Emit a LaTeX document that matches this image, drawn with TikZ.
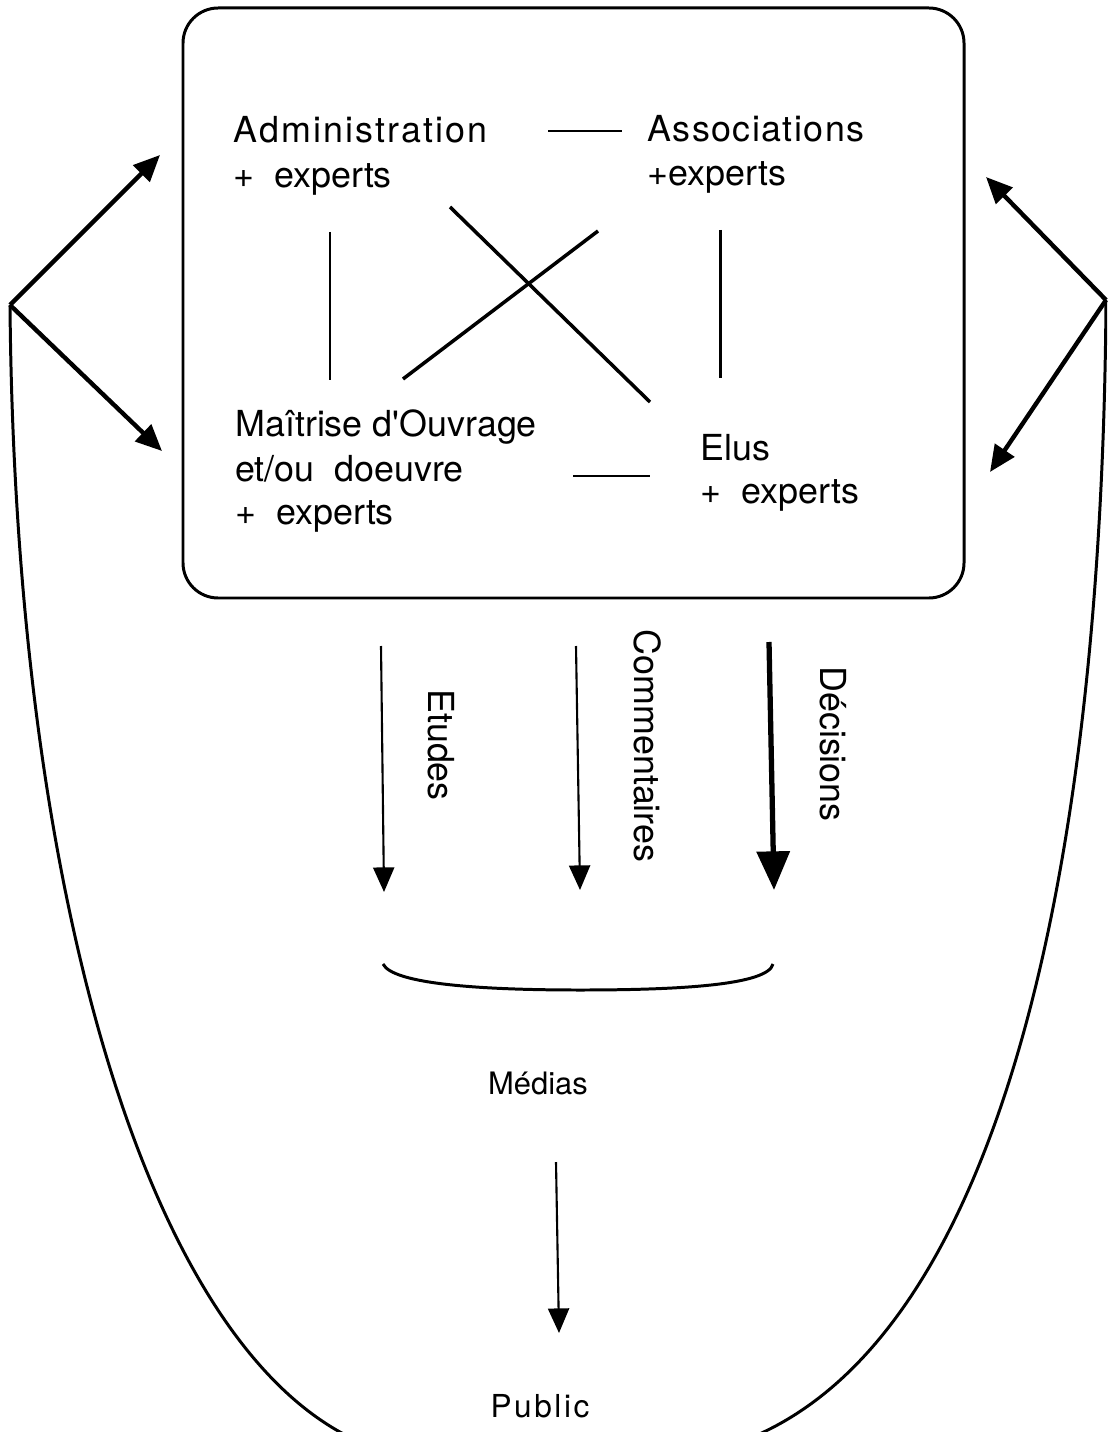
\documentclass[tikz,border=0pt]{standalone}
\usepackage{fontspec}
\setmainfont{TeX Gyre Heros}
\newfontfamily\hvA[LetterSpace=6]{TeX Gyre Heros}
\newfontfamily\hvB[LetterSpace=4]{TeX Gyre Heros}
\newfontfamily\hvC[LetterSpace=8]{TeX Gyre Heros}
\newcommand{\straightquote}{\XeTeXglyph\XeTeXglyphindex "quotesingle"\relax}
\usetikzlibrary{arrows.meta}
\begin{document}
\begin{tikzpicture}[x=0.02cm,y=-0.02cm,
  lbl/.style={anchor=base west, inner sep=0pt, font=\fontsize{20.4}{24}\selectfont},
  clbl/.style={anchor=base, inner sep=0pt},
  vlbl/.style={rotate=-90, inner sep=0pt, font=\fontsize{20.4}{24}\selectfont},
  link/.style={line width=1.7pt},
  xlink/.style={line width=2pt},
  bigarrow/.style={line width=2.5pt, -{Triangle[length=15pt,width=13pt]}},
  flow/.style={line width=1.2pt, -{Triangle[length=14pt,width=12pt]}},
  mainflow/.style={line width=3pt, -{Triangle[length=22pt,width=18.5pt]}}]
\useasboundingbox (0,0) rectangle (1107,1432);

% central box
\draw[link, rounded corners=20pt] (183,8) rectangle (964,598);

% texts in the box
\node[lbl, font=\hvA\fontsize{20.4}{24}\selectfont] (adm) at (233,143) {Administration};
\node[lbl] (admx)  at (233,188) {+\ \ experts};
\node[lbl, font=\hvB\fontsize{20.4}{24}\selectfont] (asso) at (647,142) {Associations};
\node[lbl] (assox) at (647,186) {+experts};
\node[lbl] (mo1)   at (235,437) {Maîtrise d\straightquote Ouvrage};
\node[lbl] (mo2)   at (235,481) {et/ou\ \ doeuvre};
\node[lbl] (mo3)   at (235,524) {+\ \ experts};
\node[lbl] (elus)  at (700,460) {Elus};
\node[lbl] (elusx) at (700,503) {+\ \ experts};

% links between the partners
\coordinate (h1a) at (548,131); \coordinate (h1b) at (622,131);
\coordinate (h2a) at (573,476); \coordinate (h2b) at (650,476);
\coordinate (v1a) at (330,232); \coordinate (v1b) at (330,380);
\coordinate (v2a) at (720,230); \coordinate (v2b) at (720,378);
\coordinate (d1a) at (450,207); \coordinate (d1b) at (650,402);
\coordinate (d2a) at (598,231); \coordinate (d2b) at (403,379);
\draw[link] (h1a) -- (h1b);
\draw[link] (h2a) -- (h2b);
\draw[link] (v1a) -- (v1b);
\draw[link] (v2a) -- (v2b);
\draw[xlink] (d1a) -- (d1b);
\draw[xlink] (d2a) -- (d2b);

% side arrows
\coordinate (apexL) at (10,305);
\coordinate (apexR) at (1106,300);
\coordinate (tipLU) at (160,155);
\coordinate (tipLD) at (162,451);
\coordinate (tipRU) at (986,177);
\coordinate (tipRD) at (990,472);
\draw[bigarrow] (apexL) -- (tipLU);
\draw[bigarrow] (apexL) -- (tipLD);
\draw[bigarrow] (apexR) -- (tipRU);
\draw[bigarrow] (apexR) -- (tipRD);

% big U curve
\begin{scope}
\clip (0,0) rectangle (1107,1432);
\draw[link] (apexL) .. controls (15,900) and (150,1350) .. (360,1442)
  -- (740,1442) .. controls (990,1350) and (1102,900) .. (apexR);
\end{scope}

% flows toward the media
\coordinate (eTop) at (381,646); \coordinate (eTip) at (384,892);
\coordinate (cTop) at (576,646); \coordinate (cTip) at (580,890);
\coordinate (dTop) at (769,642); \coordinate (dTip) at (774,890);
\draw[flow] (eTop) -- (eTip);
\draw[flow] (cTop) -- (cTip);
\draw[mainflow] (dTop) -- (dTip);
\node[vlbl] (etudes) at (441,745) {Etudes};
\node[vlbl] (comm)   at (648,746) {Commentaires};
\node[vlbl] (dec)    at (833,744) {Décisions};

% gathering bracket
\coordinate (bL) at (383,964);
\coordinate (bM) at (580,990);
\coordinate (bR) at (773,964);
\draw[link] (bL) .. controls (393,984) and (480,990) .. (bM)
  .. controls (680,990) and (768,985) .. (bR);

% media and public
\node[clbl, font=\fontsize{17.6}{20}\selectfont] (medias) at (538,1094) {Médias};
\node[clbl, font=\hvC\fontsize{18}{20}\selectfont] (public) at (540,1417) {Public};
\coordinate (mTop) at (556,1162);
\coordinate (mTip) at (559,1333);
\draw[flow] (mTop) -- (mTip);
\end{tikzpicture}
\end{document}
